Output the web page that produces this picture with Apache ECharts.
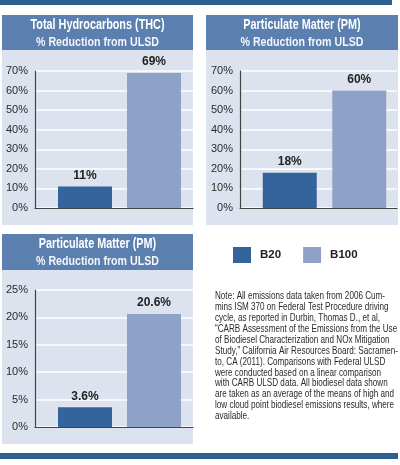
<!DOCTYPE html>
<html>
<head>
<meta charset="utf-8">
<script src="https://cdn.jsdelivr.net/npm/echarts@6/dist/echarts.min.js"></script>
<style>
html, body { margin: 0; padding: 0; background: #fff; }
#chartmain { width: 400px; height: 465px; }
</style>
</head>
<body>
<div id="chartmain"></div>
<script>
// data
var categories = ['B20', 'B100'];
var panelTitles = ['Total Hydrocarbons (THC)', 'Particulate Matter (PM)', 'Particulate Matter (PM)'];
var subTitle = '% Reduction from ULSD';
var thcValues = [11, 69];
var pmValues = [18, 60];
var pm2Values = [3.6, 20.6];
var yMax = [70, 70, 25];
var yStep = [10, 10, 5];
var noteLines = [
	'Note: All emissions data taken from 2006 Cum-',
	'mins ISM 370 on Federal Test Procedure driving',
	'cycle, as reported in Durbin, Thomas D., et al,',
	'\u201CCARB Assessment of the Emissions from the Use',
	'of Biodiesel Characterization and NOx Mitigation',
	'Study,\u201D California Air Resources Board: Sacramen-',
	'to, CA (2011). Comparisons with Federal ULSD',
	'were conducted based on a linear comparison',
	'with CARB ULSD data. All biodiesel data shown',
	'are taken as an average of the means of high and',
	'low cloud point biodiesel emissions results, where',
	'available.'
];

var allValues = [thcValues, pmValues, pm2Values];
var colors = ['#34649b', '#8ea2c8'];
var font = "'Liberation Sans', Arial, sans-serif";

// measure text so the narrow print of the original can be imitated by squeezing
var ctx = document.createElement('canvas').getContext('2d');
function squeeze(text, f, target) {
	ctx.font = f;
	return target / ctx.measureText(text).width;
}
var titleFont = 'bold 14px ' + font;
var subFont = 'bold 13.5px ' + font;
var noteFont = '10.3px ' + font;
var titleScale = squeeze(panelTitles[0], titleFont, 134);
var subScale = squeeze(subTitle, subFont, 123);
var noteScale = squeeze(noteLines[0], noteFont, 170);

// panel boxes
var panels = [
	{ x: 2, top: 15, head: 35, body: 175, w: 191 },
	{ x: 206, top: 15, head: 35, body: 175, w: 192 },
	{ x: 2, top: 234, head: 36, body: 174, w: 191 }
];
// axis grid and bar grid per panel
var axisGrids = [
	{ left: 35, top: 71, width: 158, height: 137 },
	{ left: 240, top: 71, width: 157, height: 137 },
	{ left: 35, top: 290, width: 158, height: 137 }
];
var barGrids = [
	{ left: 50.5, top: 71, width: 138, height: 137 },
	{ left: 255, top: 71, width: 139, height: 137 },
	{ left: 50.5, top: 290, width: 138, height: 137 }
];

var graphic = [
	{ type: 'rect', shape: { x: 0, y: 0, width: 392, height: 5 }, style: { fill: '#2f5f8e' } },
	{ type: 'rect', shape: { x: 0, y: 453, width: 398, height: 6 }, style: { fill: '#2f5f8e' } }
];
for (var i = 0; i < panels.length; i++) {
	var p = panels[i];
	graphic.push({ type: 'rect', z: -10, shape: { x: p.x, y: p.top, width: p.w, height: p.head }, style: { fill: '#5b7fae' } });
	graphic.push({ type: 'rect', z: -10, shape: { x: p.x, y: p.top + p.head, width: p.w, height: p.body }, style: { fill: '#dde3ee' } });
	graphic.push({ type: 'text', x: p.x + p.w / 2, y: p.top + 10, scaleX: titleScale, style: { text: panelTitles[i], fill: '#fff', font: titleFont, textAlign: 'center', textVerticalAlign: 'middle' } });
	graphic.push({ type: 'text', x: p.x + p.w / 2, y: p.top + 27, scaleX: subScale, style: { text: subTitle, fill: '#f4f6fa', font: subFont, textAlign: 'center', textVerticalAlign: 'middle' } });
}
graphic.push({ type: 'text', x: 215, y: 291, scaleX: noteScale, style: { text: noteLines.join('\n'), fill: '#2a2a2a', font: noteFont, lineHeight: 10.9 } });

var grid = [], xAxis = [], yAxis = [], series = [];
for (var i = 0; i < 3; i++) {
	grid.push(axisGrids[i]);
	grid.push(barGrids[i]);
	xAxis.push({ gridIndex: 2 * i, type: 'category', data: [''], axisLine: { lineStyle: { color: '#444', width: 1.2 } }, axisTick: { show: false }, axisLabel: { show: false } });
	xAxis.push({ gridIndex: 2 * i + 1, type: 'category', data: categories, show: false });
	yAxis.push({
		gridIndex: 2 * i, type: 'value', min: 0, max: yMax[i], interval: yStep[i],
		axisLine: { show: true, lineStyle: { color: '#444', width: 1.2 } },
		axisTick: { show: false },
		axisLabel: { formatter: '{value}%', color: '#2a2a2a', fontSize: 11, fontFamily: font, margin: 7 },
		splitLine: { lineStyle: { color: '#ffffff', width: 1.5 } }
	});
	yAxis.push({ gridIndex: 2 * i + 1, type: 'value', min: 0, max: yMax[i], show: false });
	for (var k = 0; k < categories.length; k++) {
		var d = [];
		for (var j = 0; j < categories.length; j++) {
			d.push(j === k ? allValues[i][j] : '-');
		}
		series.push({
			name: categories[k],
			type: 'bar',
			xAxisIndex: 2 * i + 1,
			yAxisIndex: 2 * i + 1,
			data: d,
			barWidth: 54,
			barGap: '-100%',
			itemStyle: { color: colors[k] },
			label: { show: true, position: 'top', distance: 5, formatter: '{c}%', color: '#222', fontSize: 12, fontWeight: 'bold', fontFamily: font }
		});
	}
}

var option = {
	animation: false,
	backgroundColor: '#ffffff',
	color: colors,
	legend: {
		data: categories,
		left: 233,
		top: 247,
		padding: 0,
		icon: 'rect',
		itemWidth: 18,
		itemHeight: 16,
		itemGap: 22,
		textStyle: { color: '#222', fontSize: 11.5, fontWeight: 'bold', fontFamily: font, padding: [0, 0, 0, 4] }
	},
	grid: grid,
	xAxis: xAxis,
	yAxis: yAxis,
	series: series,
	graphic: graphic
};

var myChart = echarts.init(document.getElementById('chartmain'));
myChart.setOption(option);
</script>
</body>
</html>
